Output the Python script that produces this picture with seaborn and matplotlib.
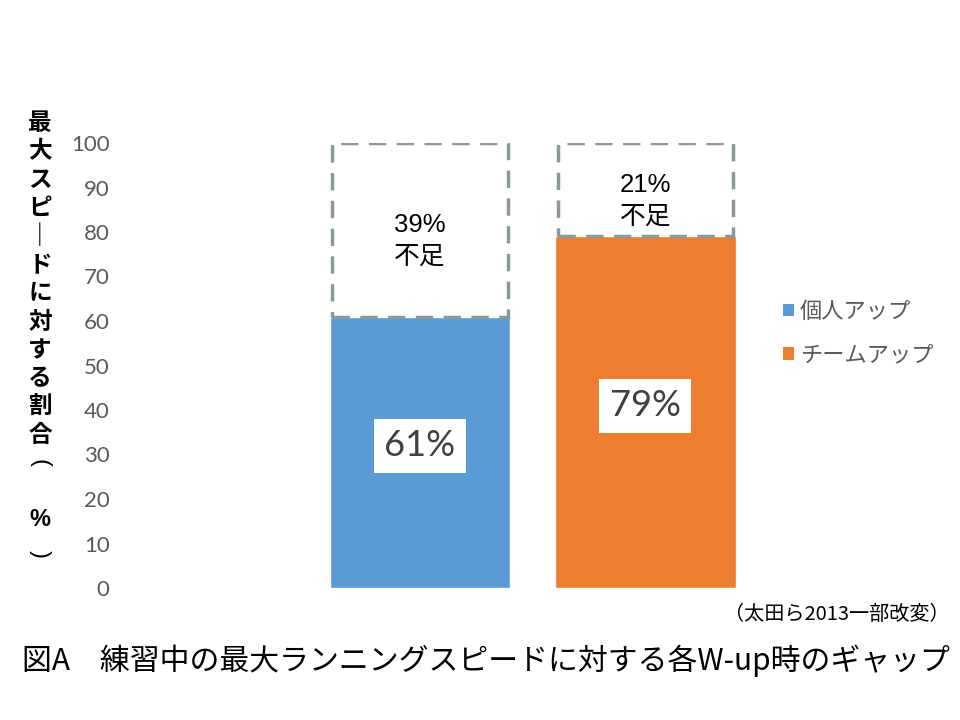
import matplotlib
matplotlib.use("Agg")
import matplotlib.pyplot as plt
import seaborn as sns
import pandas as pd
from matplotlib.patches import Patch

# ---- data ----
categories = ["個人アップ", "チームアップ"]
achieved = [61, 79]
shortfall = [39, 21]
bar_colors = ["#5B9BD5", "#ED7D31"]
yticks = [0, 10, 20, 30, 40, 50, 60, 70, 80, 90, 100]
ylabel_main = ["最", "大", "ス", "ピ", "｜", "ド", "に", "対", "す", "る", "割", "合"]
title = "図A　練習中の最大ランニングスピードに対する各W-up時のギャップ"
source = "（太田ら2013一部改変）"

df = pd.DataFrame({"cat": categories, "val": achieved})

sns.set_theme(style="white")
plt.rcParams["font.family"] = ["Noto Sans CJK JP", "DejaVu Sans"]

fig = plt.figure(figsize=(9.6, 7.2), dpi=100)
ax = fig.add_axes([125 / 960, 1 - 588 / 720, 635 / 960, (588 - 143) / 720])

sns.barplot(data=df, x="cat", y="val", hue="cat", palette=bar_colors,
            width=0.8, dodge=False, legend=False, ax=ax, saturation=1, zorder=2)

# shortfall dashed boxes
ax.bar(range(len(categories)), shortfall, bottom=achieved, width=0.78,
       fill=False, edgecolor="#8A9A9A", linewidth=2.5,
       linestyle=(0, (5, 3)), zorder=3)

# top line
ax.hlines(100.6, -0.41, 1.4, color="black", linewidth=1.3, zorder=4)

ax.set_xlim(-1.308, 1.508)
ax.set_ylim(0, 100)
ax.set_yticks(yticks)
ax.set_yticklabels([str(t) for t in yticks], fontsize=16, color="#595959",
                   family=["Lato", "DejaVu Sans"])
ax.tick_params(axis="y", length=0, pad=11)
ax.set_xticks([])
ax.set_xlabel("")
ax.set_ylabel("")
for s in ax.spines.values():
    s.set_visible(False)

# value labels
for i, v in enumerate(achieved):
    ax.text(i, v / 2 + 1.5, f"{v}%", ha="center", va="center", fontsize=26,
            color="#404040", family=["Lato", "DejaVu Sans"], zorder=5,
            bbox=dict(facecolor="white", edgecolor="none", pad=7.5))

for i, (a, s) in enumerate(zip(achieved, shortfall)):
    ax.text(i, a + s / 2 - 2.5, f"{s}%\n不足", ha="center", va="center",
            fontsize=18.5, color="black", linespacing=1.4,
            family=["Liberation Sans", "Noto Sans CJK JP"], zorder=5)

# legend
handles = [Patch(facecolor=c, edgecolor="none") for c in bar_colors]
leg = fig.legend(handles, categories, loc="upper left",
                 bbox_to_anchor=(763 / 960, 1 - 280 / 720),
                 frameon=False, handlelength=0.5, handleheight=0.5,
                 handletextpad=0.25, labelspacing=0.92, fontsize=16)
for t in leg.get_texts():
    t.set_color("#595959")

# vertical y label
fig.text(40 / 960, 1 - 111 / 720, "\n".join(ylabel_main), ha="center", va="top",
         fontsize=17, fontweight="bold", linespacing=1.23, color="black")
fig.text(40 / 960, 1 - 463 / 720, "(", ha="center", va="center", rotation=-90,
         fontsize=17, color="black", family=["Liberation Sans", "DejaVu Sans"])
fig.text(40 / 960, 1 - 520 / 720, "%", ha="center", va="center",
         fontsize=17, fontweight="bold", color="black",
         family=["Liberation Sans", "DejaVu Sans"])
fig.text(40 / 960, 1 - 554 / 720, ")", ha="center", va="center", rotation=-90,
         fontsize=17, color="black", family=["Liberation Sans", "DejaVu Sans"])

# source & title
fig.text(950 / 960, 1 - 614 / 720, source, ha="right", va="center",
         fontsize=14.5, color="black")
fig.text(22 / 960, 1 - 661 / 720, title, ha="left", va="center",
         fontsize=21.5, color="black")

fig.savefig("out.png", dpi=100)
